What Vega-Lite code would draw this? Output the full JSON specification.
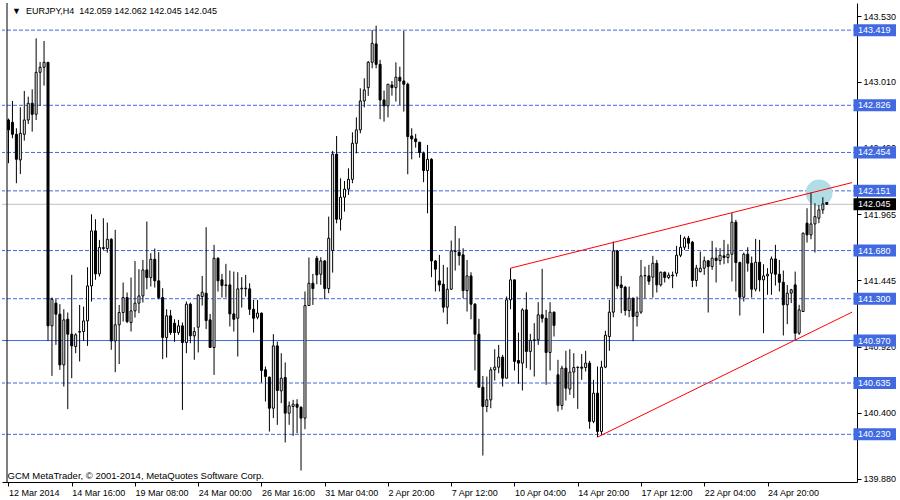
{
 "$schema": "https://vega.github.io/schema/vega-lite/v6.json",
 "width": 855,
 "height": 479,
 "autosize": {"type": "none"},
 "padding": {"left": 2, "top": 3, "right": 43, "bottom": 18},
 "background": "white",
 "config": {"view": {"stroke": null}, "axis": {"grid": false}},
 "datasets": {
  "header": [{"text": "▼\u00a0\u00a0EURJPY,H4\u00a0\u00a0142.059 142.062 142.045 142.045"}],
  "levels": [
   {"price": 143.419, "label": "143.419", "kind": "dash"},
   {"price": 142.826, "label": "142.826", "kind": "dash"},
   {"price": 142.454, "label": "142.454", "kind": "dash"},
   {"price": 142.151, "label": "142.151", "kind": "dash"},
   {"price": 141.680, "label": "141.680", "kind": "dash"},
   {"price": 141.300, "label": "141.300", "kind": "dash"},
   {"price": 140.970, "label": "140.970", "kind": "solid"},
   {"price": 140.635, "label": "140.635", "kind": "dash"},
   {"price": 140.230, "label": "140.230", "kind": "dash"},
   {"price": 142.045, "label": "142.045", "kind": "current"}
  ],
  "trends": [
   {"line": "upper", "i": 127, "price": 141.541},
   {"line": "upper", "i": 213.375, "price": 142.216},
   {"line": "lower", "i": 149, "price": 140.208},
   {"line": "lower", "i": 213.375, "price": 141.194}
  ],
  "marker": [{"i": 205.05, "price": 142.135}],
  "candles": [
{"i":0,"open":142.710,"high":142.721,"low":142.369,"close":142.632},
{"i":1,"open":142.692,"high":142.860,"low":142.566,"close":142.597},
{"i":2,"open":142.597,"high":142.645,"low":142.211,"close":142.400},
{"i":3,"open":142.395,"high":142.810,"low":142.284,"close":142.605},
{"i":4,"open":142.597,"high":142.939,"low":142.547,"close":142.710},
{"i":5,"open":142.710,"high":142.894,"low":142.679,"close":142.842},
{"i":6,"open":142.842,"high":142.952,"low":142.618,"close":142.755},
{"i":7,"open":142.755,"high":143.354,"low":142.710,"close":143.086},
{"i":8,"open":143.086,"high":143.168,"low":142.821,"close":143.126},
{"i":9,"open":143.126,"high":143.333,"low":142.981,"close":143.165},
{"i":10,"open":143.165,"high":143.165,"low":140.967,"close":141.086},
{"i":11,"open":141.086,"high":141.309,"low":140.691,"close":141.296},
{"i":12,"open":141.265,"high":141.296,"low":140.936,"close":141.178},
{"i":13,"open":141.178,"high":141.257,"low":140.739,"close":140.778},
{"i":14,"open":140.778,"high":141.217,"low":140.607,"close":141.133},
{"i":15,"open":141.138,"high":141.191,"low":140.429,"close":141.020},
{"i":16,"open":141.020,"high":141.488,"low":140.673,"close":140.928},
{"i":17,"open":140.923,"high":141.028,"low":140.870,"close":141.015},
{"i":18,"open":141.036,"high":141.251,"low":140.805,"close":141.041},
{"i":19,"open":141.041,"high":141.238,"low":140.967,"close":141.125},
{"i":20,"open":141.125,"high":141.548,"low":140.928,"close":141.401},
{"i":21,"open":141.401,"high":141.966,"low":141.278,"close":141.835},
{"i":22,"open":141.835,"high":141.927,"low":141.449,"close":141.496},
{"i":23,"open":141.496,"high":141.764,"low":141.475,"close":141.704},
{"i":24,"open":141.696,"high":141.935,"low":141.685,"close":141.704},
{"i":25,"open":141.696,"high":141.901,"low":141.664,"close":141.769},
{"i":26,"open":141.769,"high":141.777,"low":140.897,"close":140.967},
{"i":27,"open":140.967,"high":141.843,"low":140.720,"close":141.094},
{"i":28,"open":141.094,"high":141.251,"low":140.784,"close":141.191},
{"i":29,"open":141.191,"high":141.428,"low":141.120,"close":141.309},
{"i":30,"open":141.309,"high":141.349,"low":141.107,"close":141.120},
{"i":31,"open":141.112,"high":141.467,"low":141.041,"close":141.204},
{"i":32,"open":141.204,"high":141.598,"low":141.151,"close":141.265},
{"i":33,"open":141.265,"high":141.533,"low":141.186,"close":141.322},
{"i":34,"open":141.322,"high":141.606,"low":141.270,"close":141.527},
{"i":35,"open":141.527,"high":141.909,"low":141.375,"close":141.467},
{"i":36,"open":141.467,"high":141.659,"low":141.396,"close":141.611},
{"i":37,"open":141.611,"high":141.696,"low":141.388,"close":141.441},
{"i":38,"open":141.441,"high":141.667,"low":141.296,"close":141.309},
{"i":39,"open":141.309,"high":141.383,"low":140.823,"close":140.994},
{"i":40,"open":140.994,"high":141.217,"low":140.836,"close":141.165},
{"i":41,"open":141.165,"high":141.212,"low":141.015,"close":141.033},
{"i":42,"open":141.107,"high":141.138,"low":140.960,"close":141.033},
{"i":43,"open":141.033,"high":141.133,"low":141.015,"close":141.086},
{"i":44,"open":141.086,"high":141.112,"low":140.423,"close":140.954},
{"i":45,"open":140.954,"high":141.278,"low":140.870,"close":141.257},
{"i":46,"open":141.257,"high":141.270,"low":140.949,"close":141.007},
{"i":47,"open":141.007,"high":141.075,"low":140.818,"close":141.041},
{"i":48,"open":141.075,"high":141.336,"low":140.876,"close":141.328},
{"i":49,"open":141.317,"high":141.480,"low":141.246,"close":141.351},
{"i":50,"open":141.343,"high":141.864,"low":141.060,"close":141.128},
{"i":51,"open":141.133,"high":141.180,"low":140.915,"close":140.915},
{"i":52,"open":140.915,"high":141.725,"low":140.699,"close":141.619},
{"i":53,"open":141.619,"high":141.627,"low":141.357,"close":141.441},
{"i":54,"open":141.449,"high":141.496,"low":141.309,"close":141.404},
{"i":55,"open":141.404,"high":141.575,"low":141.309,"close":141.409},
{"i":56,"open":141.409,"high":141.522,"low":141.081,"close":141.180},
{"i":57,"open":141.180,"high":141.514,"low":141.041,"close":141.138},
{"i":58,"open":141.146,"high":141.509,"low":140.844,"close":141.378},
{"i":59,"open":141.378,"high":141.470,"low":141.230,"close":141.383},
{"i":60,"open":141.378,"high":141.488,"low":141.317,"close":141.383},
{"i":61,"open":141.378,"high":141.422,"low":141.172,"close":141.217},
{"i":62,"open":141.217,"high":141.291,"low":141.033,"close":141.146},
{"i":63,"open":141.154,"high":141.291,"low":141.138,"close":141.186},
{"i":64,"open":141.186,"high":141.191,"low":140.639,"close":140.734},
{"i":65,"open":140.739,"high":140.765,"low":140.489,"close":140.686},
{"i":66,"open":140.681,"high":140.686,"low":140.252,"close":140.436},
{"i":67,"open":140.436,"high":141.020,"low":140.358,"close":140.928},
{"i":68,"open":140.928,"high":140.962,"low":140.305,"close":140.576},
{"i":69,"open":140.573,"high":140.870,"low":140.476,"close":140.673},
{"i":70,"open":140.678,"high":140.797,"low":140.166,"close":140.397},
{"i":71,"open":140.397,"high":140.489,"low":140.305,"close":140.455},
{"i":72,"open":140.450,"high":140.502,"low":140.218,"close":140.468},
{"i":73,"open":140.468,"high":140.507,"low":140.239,"close":140.444},
{"i":74,"open":140.444,"high":140.450,"low":139.945,"close":140.358},
{"i":75,"open":140.358,"high":141.357,"low":140.271,"close":141.246},
{"i":76,"open":141.246,"high":141.625,"low":141.246,"close":141.422},
{"i":77,"open":141.422,"high":141.496,"low":141.251,"close":141.380},
{"i":78,"open":141.619,"high":141.638,"low":141.414,"close":141.488},
{"i":79,"open":141.493,"high":141.627,"low":141.409,"close":141.598},
{"i":80,"open":141.598,"high":141.606,"low":141.296,"close":141.380},
{"i":81,"open":141.380,"high":141.948,"low":141.343,"close":141.777},
{"i":82,"open":141.680,"high":142.466,"low":141.506,"close":142.440},
{"i":83,"open":142.440,"high":142.584,"low":141.895,"close":141.927},
{"i":84,"open":141.927,"high":142.250,"low":141.838,"close":142.101},
{"i":85,"open":142.101,"high":142.229,"low":141.987,"close":142.164},
{"i":86,"open":142.164,"high":142.329,"low":142.119,"close":142.242},
{"i":87,"open":142.242,"high":142.613,"low":142.211,"close":142.526},
{"i":88,"open":142.526,"high":142.731,"low":142.447,"close":142.632},
{"i":89,"open":142.632,"high":142.960,"low":142.605,"close":142.860},
{"i":90,"open":142.860,"high":143.039,"low":142.810,"close":142.947},
{"i":91,"open":142.965,"high":143.176,"low":142.900,"close":143.165},
{"i":92,"open":143.165,"high":143.420,"low":143.118,"close":143.315},
{"i":93,"open":143.310,"high":143.454,"low":143.118,"close":143.149},
{"i":94,"open":143.149,"high":143.184,"low":142.716,"close":142.868},
{"i":95,"open":142.868,"high":142.942,"low":142.697,"close":142.821},
{"i":96,"open":142.821,"high":142.994,"low":142.731,"close":142.992},
{"i":97,"open":142.986,"high":143.018,"low":142.902,"close":142.965},
{"i":98,"open":142.965,"high":143.165,"low":142.855,"close":143.047},
{"i":99,"open":143.047,"high":143.131,"low":142.829,"close":143.018},
{"i":100,"open":143.018,"high":143.412,"low":142.776,"close":142.992},
{"i":101,"open":142.992,"high":143.005,"low":142.282,"close":142.579},
{"i":102,"open":142.584,"high":142.645,"low":142.400,"close":142.561},
{"i":103,"open":142.561,"high":142.600,"low":142.492,"close":142.539},
{"i":104,"open":142.534,"high":142.539,"low":142.413,"close":142.453},
{"i":105,"open":142.447,"high":142.461,"low":142.219,"close":142.311},
{"i":106,"open":142.311,"high":142.513,"low":141.974,"close":142.400},
{"i":107,"open":142.400,"high":142.408,"low":141.470,"close":141.598},
{"i":108,"open":141.598,"high":141.606,"low":141.357,"close":141.533},
{"i":109,"open":141.441,"high":141.646,"low":141.357,"close":141.409},
{"i":110,"open":141.414,"high":141.567,"low":141.191,"close":141.233},
{"i":111,"open":141.233,"high":141.548,"low":141.099,"close":141.375},
{"i":112,"open":141.375,"high":141.759,"low":141.370,"close":141.677},
{"i":113,"open":141.677,"high":141.874,"low":141.522,"close":141.672},
{"i":114,"open":141.667,"high":141.777,"low":141.562,"close":141.640},
{"i":115,"open":141.646,"high":141.698,"low":141.304,"close":141.364},
{"i":116,"open":141.364,"high":141.606,"low":141.199,"close":141.480},
{"i":117,"open":141.480,"high":141.509,"low":141.138,"close":141.257},
{"i":118,"open":141.257,"high":141.265,"low":140.734,"close":141.020},
{"i":119,"open":141.020,"high":141.141,"low":140.602,"close":140.602},
{"i":120,"open":140.602,"high":140.691,"low":140.063,"close":140.450},
{"i":121,"open":140.450,"high":140.686,"low":140.405,"close":140.502},
{"i":122,"open":140.502,"high":140.760,"low":140.436,"close":140.739},
{"i":123,"open":140.739,"high":140.902,"low":140.655,"close":140.760},
{"i":124,"open":140.760,"high":140.936,"low":140.712,"close":140.839},
{"i":125,"open":140.839,"high":140.857,"low":140.607,"close":140.673},
{"i":126,"open":140.673,"high":141.317,"low":140.673,"close":141.291},
{"i":127,"open":141.291,"high":141.541,"low":141.217,"close":141.449},
{"i":128,"open":141.449,"high":141.449,"low":140.734,"close":140.805},
{"i":129,"open":140.813,"high":141.033,"low":140.629,"close":140.792},
{"i":130,"open":140.792,"high":141.225,"low":140.576,"close":141.212},
{"i":131,"open":141.212,"high":141.351,"low":140.752,"close":140.884},
{"i":132,"open":140.884,"high":141.023,"low":140.739,"close":140.970},
{"i":133,"open":140.970,"high":141.107,"low":140.686,"close":140.976},
{"i":134,"open":140.976,"high":141.273,"low":140.936,"close":141.173},
{"i":135,"open":141.173,"high":141.536,"low":141.112,"close":141.146},
{"i":136,"open":141.146,"high":141.212,"low":140.621,"close":140.876},
{"i":137,"open":140.876,"high":141.273,"low":140.734,"close":141.194},
{"i":138,"open":141.194,"high":141.199,"low":141.002,"close":141.089},
{"i":139,"open":140.700,"high":140.818,"low":140.410,"close":140.458},
{"i":140,"open":140.458,"high":140.771,"low":140.424,"close":140.752},
{"i":141,"open":140.752,"high":140.889,"low":140.497,"close":140.594},
{"i":142,"open":140.587,"high":140.902,"low":140.542,"close":140.721},
{"i":143,"open":140.721,"high":140.870,"low":140.516,"close":140.757},
{"i":144,"open":140.757,"high":140.765,"low":140.431,"close":140.760},
{"i":145,"open":140.760,"high":140.863,"low":140.660,"close":140.752},
{"i":146,"open":140.757,"high":140.889,"low":140.726,"close":140.792},
{"i":147,"open":140.792,"high":140.810,"low":140.274,"close":140.332},
{"i":148,"open":140.332,"high":140.660,"low":140.318,"close":140.555},
{"i":149,"open":140.555,"high":140.765,"low":140.208,"close":140.253},
{"i":150,"open":140.253,"high":140.810,"low":140.226,"close":140.760},
{"i":151,"open":140.760,"high":141.047,"low":140.752,"close":141.012},
{"i":152,"open":141.002,"high":141.291,"low":140.889,"close":141.194},
{"i":153,"open":141.194,"high":141.751,"low":141.154,"close":141.677},
{"i":154,"open":141.677,"high":141.685,"low":141.378,"close":141.401},
{"i":155,"open":141.409,"high":141.480,"low":141.186,"close":141.388},
{"i":156,"open":141.391,"high":141.401,"low":141.167,"close":141.207},
{"i":157,"open":141.207,"high":141.396,"low":141.154,"close":141.304},
{"i":158,"open":141.304,"high":141.309,"low":140.965,"close":141.160},
{"i":159,"open":141.160,"high":141.317,"low":141.081,"close":141.194},
{"i":160,"open":141.194,"high":141.606,"low":141.181,"close":141.480},
{"i":161,"open":141.480,"high":141.554,"low":141.304,"close":141.483},
{"i":162,"open":141.480,"high":141.567,"low":141.409,"close":141.438},
{"i":163,"open":141.470,"high":141.638,"low":141.309,"close":141.580},
{"i":164,"open":141.580,"high":141.606,"low":141.349,"close":141.409},
{"i":165,"open":141.409,"high":141.514,"low":141.396,"close":141.509},
{"i":166,"open":141.509,"high":141.514,"low":141.428,"close":141.467},
{"i":167,"open":141.467,"high":141.507,"low":141.454,"close":141.486},
{"i":168,"open":141.480,"high":141.514,"low":141.383,"close":141.486},
{"i":169,"open":141.501,"high":141.717,"low":141.475,"close":141.643},
{"i":170,"open":141.643,"high":141.804,"low":141.628,"close":141.706},
{"i":171,"open":141.706,"high":141.791,"low":141.685,"close":141.777},
{"i":172,"open":141.777,"high":141.796,"low":141.691,"close":141.738},
{"i":173,"open":141.746,"high":141.756,"low":141.391,"close":141.444},
{"i":174,"open":141.444,"high":141.567,"low":141.396,"close":141.541},
{"i":175,"open":141.514,"high":141.672,"low":141.507,"close":141.541},
{"i":176,"open":141.541,"high":141.633,"low":141.488,"close":141.599},
{"i":177,"open":141.599,"high":141.606,"low":141.191,"close":141.554},
{"i":178,"open":141.554,"high":141.756,"low":141.528,"close":141.620},
{"i":179,"open":141.620,"high":141.704,"low":141.428,"close":141.601},
{"i":180,"open":141.601,"high":141.699,"low":141.567,"close":141.643},
{"i":181,"open":141.638,"high":141.764,"low":141.572,"close":141.625},
{"i":182,"open":141.625,"high":141.730,"low":141.580,"close":141.651},
{"i":183,"open":141.651,"high":141.975,"low":141.436,"close":141.904},
{"i":184,"open":141.904,"high":141.922,"low":141.357,"close":141.585},
{"i":185,"open":141.585,"high":141.593,"low":141.167,"close":141.312},
{"i":186,"open":141.312,"high":141.664,"low":141.278,"close":141.651},
{"i":187,"open":141.651,"high":141.706,"low":141.514,"close":141.580},
{"i":188,"open":141.580,"high":141.633,"low":141.309,"close":141.375},
{"i":189,"open":141.375,"high":141.772,"low":141.357,"close":141.588},
{"i":190,"open":141.588,"high":141.764,"low":141.357,"close":141.449},
{"i":191,"open":141.449,"high":141.572,"low":141.028,"close":141.480},
{"i":192,"open":141.480,"high":141.541,"low":141.331,"close":141.493},
{"i":193,"open":141.501,"high":141.633,"low":141.331,"close":141.614},
{"i":194,"open":141.614,"high":141.725,"low":141.404,"close":141.493},
{"i":195,"open":141.493,"high":141.606,"low":141.357,"close":141.430},
{"i":196,"open":141.430,"high":141.522,"low":141.010,"close":141.252},
{"i":197,"open":141.252,"high":141.409,"low":141.099,"close":141.344},
{"i":198,"open":141.344,"high":141.378,"low":141.265,"close":141.370},
{"i":199,"open":141.409,"high":141.514,"low":140.970,"close":141.028},
{"i":200,"open":141.028,"high":141.252,"low":141.015,"close":141.212},
{"i":201,"open":141.199,"high":141.822,"low":141.199,"close":141.817},
{"i":202,"open":141.896,"high":142.014,"low":141.743,"close":141.804},
{"i":203,"open":141.804,"high":142.138,"low":141.769,"close":141.890},
{"i":204,"open":141.890,"high":142.053,"low":141.664,"close":141.948},
{"i":205,"open":141.935,"high":142.040,"low":141.896,"close":142.001},
{"i":206,"open":142.001,"high":142.101,"low":141.969,"close":142.048},
{"i":207,"open":142.059,"high":142.062,"low":142.045,"close":142.045}
  ]
 },
 "layer": [
  {
   "data": {"name": "levels"},
   "transform": [{"filter": "datum.kind == 'dash'"}],
   "mark": {"type": "rule", "color": "#4169E1", "strokeWidth": 1, "strokeDash": [4, 2]},
   "encoding": {
    "y": {"field": "price", "type": "quantitative",
     "scale": {"domain": [139.854, 143.633], "nice": false, "zero": false},
     "axis": {"orient": "right", "values": [143.53, 143.27, 143.01, 142.75, 142.49, 142.225, 141.965, 141.705, 141.445, 141.185, 140.92, 140.66, 140.4, 140.14, 139.88],
      "format": ".3f", "labelFont": "Liberation Sans", "labelFontSize": 9, "labelColor": "black", "labelPadding": 2, "labelBaseline": "middle",
      "labelOverlap": false, "labelFlush": false, "tickColor": "black", "tickSize": 4, "domainColor": "black", "grid": false, "title": null}}
   }
  },
  {
   "data": {"name": "levels"},
   "transform": [{"filter": "datum.kind == 'solid'"}],
   "mark": {"type": "rule", "color": "#4169E1", "strokeWidth": 1},
   "encoding": {"y": {"field": "price", "type": "quantitative", "scale": {"domain": [139.854, 143.633], "nice": false, "zero": false}}}
  },
  {
   "data": {"name": "levels"},
   "transform": [{"filter": "datum.kind == 'current'"}],
   "mark": {"type": "rule", "color": "#C0C0C0", "strokeWidth": 1},
   "encoding": {"y": {"field": "price", "type": "quantitative", "scale": {"domain": [139.854, 143.633], "nice": false, "zero": false}}}
  },
  {
   "data": {"values": [{}]},
   "mark": {"type": "rule", "color": "black", "strokeWidth": 1},
   "encoding": {"x": {"datum": -0.375, "type": "quantitative", "scale": {"domain": [-0.375, 213.375], "nice": false, "zero": false}}}
  },
  {
   "data": {"name": "header"},
   "mark": {"type": "text", "align": "left", "baseline": "alphabetic", "dx": 5, "dy": 11, "font": "Liberation Sans", "fontSize": 9, "color": "black"},
   "encoding": {
    "x": {"datum": -0.375, "type": "quantitative", "scale": {"domain": [-0.375, 213.375], "nice": false, "zero": false}},
    "y": {"datum": 143.633, "type": "quantitative", "scale": {"domain": [139.854, 143.633], "nice": false, "zero": false}},
    "text": {"field": "text"}
   }
  },
  {
   "data": {"name": "marker"},
   "mark": {"type": "point", "shape": "circle", "filled": true, "color": "#B0DDE6", "opacity": 1, "size": 720},
   "encoding": {
    "x": {"field": "i", "type": "quantitative", "scale": {"domain": [-0.375, 213.375], "nice": false, "zero": false}},
    "y": {"field": "price", "type": "quantitative", "scale": {"domain": [139.854, 143.633], "nice": false, "zero": false}}
   }
  },
  {
   "data": {"name": "candles"},
   "mark": {"type": "rule", "color": "black", "strokeWidth": 1},
   "encoding": {
    "x": {"field": "i", "type": "quantitative",
     "scale": {"domain": [-0.375, 213.375], "nice": false, "zero": false},
     "axis": {"values": [0, 16, 32, 48, 64, 80, 96, 112, 128, 144, 160, 176, 192],
      "labelExpr": "['12 Mar 2014','14 Mar 16:00','19 Mar 08:00','24 Mar 00:00','26 Mar 16:00','31 Mar 04:00','2 Apr 20:00','7 Apr 12:00','10 Apr 04:00','14 Apr 20:00','17 Apr 12:00','22 Apr 04:00','24 Apr 20:00'][round(datum.value / 16)]",
      "labelAlign": "left", "labelBaseline": "top", "labelPadding": 2, "labelFont": "Liberation Sans", "labelFontSize": 9, "labelColor": "black",
      "labelOverlap": false, "labelFlush": false, "tickColor": "black", "tickSize": 4, "domainColor": "black", "grid": false,
      "title": "GCM MetaTrader, © 2001-2014, MetaQuotes Software Corp.", "titleX": 5, "titleY": -4, "titleAlign": "left", "titleBaseline": "alphabetic",
      "titleFont": "Liberation Sans", "titleFontSize": 9.5, "titleFontWeight": "normal", "titleColor": "black"}},
    "y": {"field": "low", "type": "quantitative", "scale": {"domain": [139.854, 143.633], "nice": false, "zero": false}},
    "y2": {"field": "high"}
   }
  },
  {
   "data": {"name": "candles"},
   "mark": {"type": "bar", "size": 2, "stroke": "black", "strokeWidth": 1, "orient": "vertical"},
   "encoding": {
    "x": {"field": "i", "type": "quantitative", "scale": {"domain": [-0.375, 213.375], "nice": false, "zero": false}},
    "y": {"field": "open", "type": "quantitative", "scale": {"domain": [139.854, 143.633], "nice": false, "zero": false}},
    "y2": {"field": "close"},
    "color": {"condition": {"test": "datum.close < datum.open", "value": "black"}, "value": "white"}
   }
  },
  {
   "data": {"name": "trends"},
   "mark": {"type": "line", "color": "#FF0000", "strokeWidth": 1},
   "encoding": {
    "x": {"field": "i", "type": "quantitative", "scale": {"domain": [-0.375, 213.375], "nice": false, "zero": false}},
    "y": {"field": "price", "type": "quantitative", "scale": {"domain": [139.854, 143.633], "nice": false, "zero": false}},
    "detail": {"field": "line"}
   }
  },
  {
   "data": {"name": "levels"},
   "mark": {"type": "rect", "xOffset": 1.5, "x2Offset": 44, "yOffset": -6, "y2Offset": 6},
   "encoding": {
    "x": {"datum": 213.375, "type": "quantitative", "scale": {"domain": [-0.375, 213.375], "nice": false, "zero": false}},
    "x2": {"datum": 213.375},
    "y": {"field": "price", "type": "quantitative", "scale": {"domain": [139.854, 143.633], "nice": false, "zero": false}},
    "y2": {"field": "price"},
    "color": {"condition": {"test": "datum.kind == 'current'", "value": "black"}, "value": "#4169E1"}
   }
  },
  {
   "data": {"name": "levels"},
   "mark": {"type": "text", "align": "left", "baseline": "middle", "dx": 6, "font": "Liberation Sans", "fontSize": 9, "color": "white"},
   "encoding": {
    "x": {"datum": 213.375, "type": "quantitative", "scale": {"domain": [-0.375, 213.375], "nice": false, "zero": false}},
    "y": {"field": "price", "type": "quantitative", "scale": {"domain": [139.854, 143.633], "nice": false, "zero": false}},
    "text": {"field": "label"}
   }
  }
 ]
}
